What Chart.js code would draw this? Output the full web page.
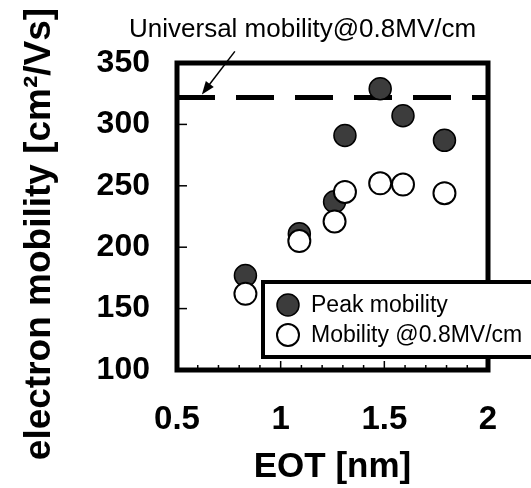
<!DOCTYPE html>
<html>
<head>
<meta charset="utf-8">
<script src="https://cdn.jsdelivr.net/npm/chart.js@4"></script>
<style>
  html, body { margin: 0; padding: 0; background: #fff; }
  #wrap { width: 531px; height: 488px; }
</style>
</head>
<body>
<div id="wrap"><canvas id="mobility-chart" width="531" height="488"></canvas></div>
<script>
/* values */
const eot = [0.83, 1.09, 1.26, 1.31, 1.48, 1.59, 1.79]
const peakMobility = [177, 211, 237, 291, 329, 307, 287]
const fieldMobility = [162, 205, 221, 245, 252, 251, 244]
const universalMobility = 322
const xRange = [0.5, 2]
const yRange = [100, 350]

const seriesNames = ["Peak mobility", "Mobility @0.8MV/cm"]
const noteText = "Universal mobility@0.8MV/cm"
const xTitle = "EOT [nm]"
const yTitle = "electron mobility [cm²/Vs]"

const FONT = "'Liberation Sans', Arial, Helvetica, sans-serif"

const toPoints = (xs, ys) => xs.map((x, i) => ({ x: x, y: ys[i] }))

// frame, inner ticks, arrow note, y title and the boxed legend
const decorations = {
    id: 'decorations',
    afterDraw(chart) {
        const ctx = chart.ctx
        const area = chart.chartArea
        const xs = chart.scales.x
        const ys = chart.scales.y
        ctx.save()

        // inside tick marks
        ctx.strokeStyle = '#000'
        ctx.lineWidth = 1.5
        for (let v = 6; v < 20; v++) {
            const px = xs.getPixelForValue(v / 10)
            const len = (v % 5 === 0) ? 9 : 5
            ctx.beginPath()
            ctx.moveTo(px, area.bottom)
            ctx.lineTo(px, area.bottom - len)
            ctx.stroke()
        }
        for (let v = 150; v < 350; v += 50) {
            const py = ys.getPixelForValue(v)
            ctx.beginPath()
            ctx.moveTo(area.left, py)
            ctx.lineTo(area.left + 10, py)
            ctx.stroke()
        }

        // frame
        ctx.lineWidth = 5
        ctx.strokeRect(area.left, area.top, area.right - area.left, area.bottom - area.top)

        // note with arrow pointing at the universal line
        const tipX = xs.getPixelForValue(0.62)
        const tipY = ys.getPixelForValue(universalMobility) - 3
        const tailX = tipX + 33
        const tailY = tipY - 43
        const ang = Math.atan2(tipY - tailY, tipX - tailX)
        ctx.lineWidth = 1.5
        ctx.beginPath()
        ctx.moveTo(tailX, tailY)
        ctx.lineTo(tipX - 8 * Math.cos(ang), tipY - 8 * Math.sin(ang))
        ctx.stroke()
        ctx.beginPath()
        ctx.moveTo(tipX, tipY)
        ctx.lineTo(tipX - 13 * Math.cos(ang) + 5 * Math.sin(ang), tipY - 13 * Math.sin(ang) - 5 * Math.cos(ang))
        ctx.lineTo(tipX - 13 * Math.cos(ang) - 5 * Math.sin(ang), tipY - 13 * Math.sin(ang) + 5 * Math.cos(ang))
        ctx.closePath()
        ctx.fillStyle = '#000'
        ctx.fill()

        ctx.font = '26px ' + FONT
        ctx.textAlign = 'left'
        ctx.textBaseline = 'alphabetic'
        ctx.fillText(noteText, 129, 37)

        // y axis title
        ctx.save()
        ctx.translate(40, 234)
        ctx.rotate(-Math.PI / 2)
        ctx.font = 'bold 37px ' + FONT
        ctx.textAlign = 'center'
        ctx.textBaseline = 'middle'
        ctx.fillText(yTitle, 0, 0)
        ctx.restore()

        // legend box
        const boxL = 263, boxT = 282, boxB = 357
        ctx.fillStyle = '#fff'
        ctx.fillRect(boxL, boxT, chart.width - boxL + 10, boxB - boxT)
        ctx.lineWidth = 4
        ctx.strokeStyle = '#000'
        ctx.strokeRect(boxL, boxT, chart.width - boxL + 10, boxB - boxT)
        const rows = [chart.data.datasets[0], chart.data.datasets[1]]
        rows.forEach((ds, i) => {
            const cy = boxT + 23 + i * 30
            ctx.beginPath()
            ctx.arc(boxL + 25, cy, 11, 0, Math.PI * 2)
            ctx.fillStyle = ds.backgroundColor
            ctx.fill()
            ctx.lineWidth = ds.borderWidth
            ctx.strokeStyle = ds.borderColor
            ctx.stroke()
            ctx.fillStyle = '#000'
            ctx.font = '23px ' + FONT
            ctx.textAlign = 'left'
            ctx.textBaseline = 'middle'
            ctx.fillText(ds.label, boxL + 48, cy + 1)
        })
        ctx.restore()
    }
}

new Chart(document.getElementById("mobility-chart"), {
    type: 'scatter',
    data: {
        datasets: [
            {
                label: seriesNames[0],
                data: toPoints(eot, peakMobility),
                backgroundColor: '#3c3c3c',
                borderColor: '#000',
                borderWidth: 1.5,
                pointRadius: 11,
                order: 2
            },
            {
                label: seriesNames[1],
                data: toPoints(eot, fieldMobility),
                backgroundColor: '#fff',
                borderColor: '#000',
                borderWidth: 2,
                pointRadius: 11,
                order: 1
            },
            {
                type: 'line',
                label: noteText,
                data: toPoints(xRange, [universalMobility, universalMobility]),
                borderColor: '#000',
                borderWidth: 5,
                borderDash: [38, 21],
                pointRadius: 0,
                fill: false,
                order: 3
            }
        ]
    },
    options: {
        responsive: false,
        animation: false,
        devicePixelRatio: 1,
        layout: { padding: { top: 63, right: 43, bottom: 0, left: 0 } },
        plugins: {
            legend: { display: false },
            tooltip: { enabled: false }
        },
        scales: {
            x: {
                type: 'linear',
                min: xRange[0],
                max: xRange[1],
                afterFit: scale => {
                    scale.height = 118
                    scale.paddingLeft = 0
                    scale.paddingRight = 0
                },
                grid: { display: false, drawTicks: false },
                border: { display: false },
                ticks: {
                    stepSize: 0.5,
                    autoSkip: false,
                    maxRotation: 0,
                    padding: 30,
                    color: '#000',
                    callback: value => String(value),
                    font: { family: FONT, size: 33, weight: 'bold' }
                },
                title: {
                    display: true,
                    text: xTitle,
                    color: '#000',
                    padding: { top: 0, bottom: 0 },
                    font: { family: FONT, size: 35, weight: 'bold' }
                }
            },
            y: {
                min: yRange[0],
                max: yRange[1],
                afterFit: scale => {
                    scale.width = 177
                    scale.paddingTop = 0
                    scale.paddingBottom = 0
                },
                grid: { display: false, drawTicks: false },
                border: { display: false },
                ticks: {
                    stepSize: 50,
                    padding: 27,
                    color: '#000',
                    font: { family: FONT, size: 32, weight: 'bold' }
                }
            }
        }
    },
    plugins: [decorations]
});
</script>
</body>
</html>
